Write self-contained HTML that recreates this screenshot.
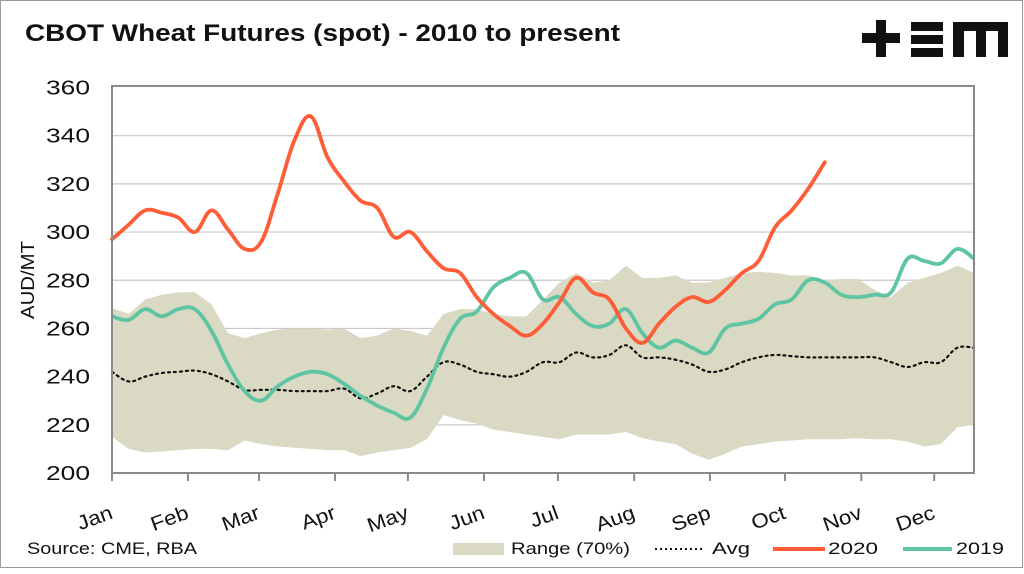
<!DOCTYPE html>
<html><head><meta charset="utf-8">
<style>
html,body{margin:0;padding:0;background:#fff;}
body{width:1024px;height:569px;overflow:hidden;font-family:"Liberation Sans",sans-serif;}
svg text{font-family:"Liberation Sans",sans-serif;}
</style></head>
<body>
<svg width="1024" height="569" viewBox="0 0 1024 569" xmlns="http://www.w3.org/2000/svg">
<rect x="0.5" y="0.5" width="1022" height="567" fill="#fff" stroke="#9a9a9a"/>
<text x="25" y="41" font-size="24" font-weight="bold" fill="#111" textLength="595" lengthAdjust="spacingAndGlyphs">CBOT Wheat Futures (spot) - 2010 to present</text>
<g fill="#111">
<rect x="862" y="33" width="38" height="10"/><rect x="876" y="20" width="10" height="37"/>
<rect x="911" y="22" width="32" height="9"/><rect x="911" y="35" width="32" height="9"/><rect x="911" y="48" width="32" height="9"/>
<path d="M953 22 H1008 V57 H998 V31 H986 V57 H976 V31 H964 V57 H953 Z"/>
</g>
<g id="grid"></g>
<g id="plot"></g>
<rect x="112" y="86" width="862" height="387" fill="none" stroke="#8a8a8a" stroke-width="2"/>
<g id="axes"></g>
<text transform="translate(34,280) rotate(-90)" text-anchor="middle" font-size="18" fill="#111" textLength="78" lengthAdjust="spacingAndGlyphs">AUD/MT</text>
<text x="27" y="554" font-size="17" fill="#111" textLength="170" lengthAdjust="spacingAndGlyphs">Source: CME, RBA</text>
<g>
<rect x="453" y="543" width="51" height="12" fill="#d9d9c4"/>
<text x="511" y="554" font-size="17" fill="#111" textLength="119" lengthAdjust="spacingAndGlyphs">Range (70%)</text>
<line x1="655" y1="549" x2="705" y2="549" stroke="#111" stroke-width="2" stroke-dasharray="2 3"/>
<text x="712" y="554" font-size="17" fill="#111" textLength="38" lengthAdjust="spacingAndGlyphs">Avg</text>
<line x1="773" y1="549" x2="825" y2="549" stroke="#ff5c38" stroke-width="4"/>
<text x="828" y="554" font-size="17" fill="#111" textLength="50" lengthAdjust="spacingAndGlyphs">2020</text>
<line x1="903" y1="549" x2="952" y2="549" stroke="#5ec4a2" stroke-width="4"/>
<text x="956" y="554" font-size="17" fill="#111" textLength="48" lengthAdjust="spacingAndGlyphs">2019</text>
</g>
</svg>
<script>
const months=["Jan","Feb","Mar","Apr","May","Jun","Jul","Aug","Sep","Oct","Nov","Dec"];
const monthWeeks=[0,4.58,8.87,13.45,17.85,22.44,26.9,31.5,36.07,40.6,45.2,49.6];
const yTicks=[200,220,240,260,280,300,320,340,360];
const s2020=[297,303,309,308,306,300,309,301,293,296,316,338,348,331,321,313,310,298,300,292,285,283,273,266,261,257,262,271,281,275,272,260,254,262,269,273,271,276,283,288,302,309,318,329];
const s2019=[265,263.5,268,265,268,268,259,245,234,230,236,240,242,241,237,232,228,225,223,235,252,264,267,277,281,283,272,273,266,261,262,268,258,252,255,252,250,260,262,264,270,272,280,279,274,273,274,275,289,288,287,293,289];
const avg=[242,238,240,241.5,242,242.5,241,238,234.5,234.5,234.5,234,234,234,235,231,233,236,234,240,246,245,242,241,240,242,246,246,250,248,249,253,248,248,247,245,242,243,246,248,249,248.5,248,248,248,248,248,246,244,246,246,252,252];
const rangeHi=[268.5,266,272,274,275,275,270,258,256,258,259.5,260,260,259.5,260,256,257,260,259,257,266,268,268,266,265,265,272,279,283,279,280,286,281,281,282,279,279,281,283,283.5,283,282,282,280,280.5,280.5,276,273,279,281,283,286,283];
const rangeLo=[215,210,208.5,209,209.5,210,210,209.5,213.5,212,211,210.5,210,209.5,209.5,207,208.5,209.5,210.5,214,224,222,220.5,218,217,216,215,214,216,216,216,217,214.5,213,212,208,205.5,208,211,212,213,213.5,214,214,214,214.5,214,214,213,211,212,219,220];

const NS="http://www.w3.org/2000/svg";
const X0=112,X1=974,Y0=473,Y1=87.5,NW=52;
function xs(w){return X0+(X1-X0)*w/NW;}
function ys(v){return Y0-(v-200)*(Y0-Y1)/160;}
function mk(tag,attrs,parent){const e=document.createElementNS(NS,tag);for(const k in attrs)e.setAttribute(k,attrs[k]);parent.appendChild(e);return e;}
function smooth(pts){let d="M"+pts[0][0]+","+pts[0][1];for(let i=0;i<pts.length-1;i++){const p0=pts[i-1]||pts[i],p1=pts[i],p2=pts[i+1],p3=pts[i+2]||p2;const t=0.18;d+=" C"+(p1[0]+(p2[0]-p0[0])*t)+","+(p1[1]+(p2[1]-p0[1])*t)+" "+(p2[0]-(p3[0]-p1[0])*t)+","+(p2[1]-(p3[1]-p1[1])*t)+" "+p2[0]+","+p2[1];}return d;}
const grid=document.getElementById('grid'),plot=document.getElementById('plot'),axes=document.getElementById('axes');
yTicks.forEach(v=>{
 if(v>200&&v<360){const l=mk('line',{x1:X0,x2:X1,y1:ys(v),y2:ys(v),stroke:'#c8c8c8','stroke-width':1.2},grid);
 
 }
 const t=mk('text',{x:90,y:ys(v)+7,'text-anchor':'end','font-size':20,fill:'#111',textLength:44,lengthAdjust:'spacingAndGlyphs'},axes);t.textContent=v;
 
 
});
let d="M"+rangeHi.map((v,i)=>xs(i)+","+ys(v)).join(" L");
for(let i=rangeLo.length-1;i>=0;i--)d+=" L"+xs(i)+","+ys(rangeLo[i]);
const area=mk('path',{d:d+"Z",fill:'#d9d9c4'},plot);


const av=mk('path',{d:smooth(avg.map((v,i)=>[xs(i),ys(v)])),fill:'none',stroke:'#111','stroke-width':2.2,'stroke-dasharray':'2 4','stroke-linecap':'round'},plot);


const g19=mk('path',{d:smooth(s2019.map((v,i)=>[xs(i),ys(v)])),fill:'none',stroke:'#5ec4a2','stroke-width':3.8,'stroke-linejoin':'round'},plot);


const g20=mk('path',{d:smooth(s2020.map((v,i)=>[xs(i),ys(v)])),fill:'none',stroke:'#ff5c38','stroke-width':3.8,'stroke-linejoin':'round','stroke-linecap':'round'},plot);


months.forEach((m,i)=>{
 const x=xs(monthWeeks[i]);
 const tk=mk('line',{x1:x,x2:x,y1:Y0,y2:Y0+8,stroke:'#8a8a8a','stroke-width':2},axes);
 
 
 const t=mk('text',{transform:'translate('+(x+2)+',518) rotate(-20)','text-anchor':'end','font-size':20,fill:'#111'},axes);t.textContent=m;
 
 
 const L=t.getComputedTextLength();
 t.setAttribute('textLength',(L*1.12).toFixed(1));
 t.setAttribute('lengthAdjust','spacingAndGlyphs');
});
</script>
</body></html>
